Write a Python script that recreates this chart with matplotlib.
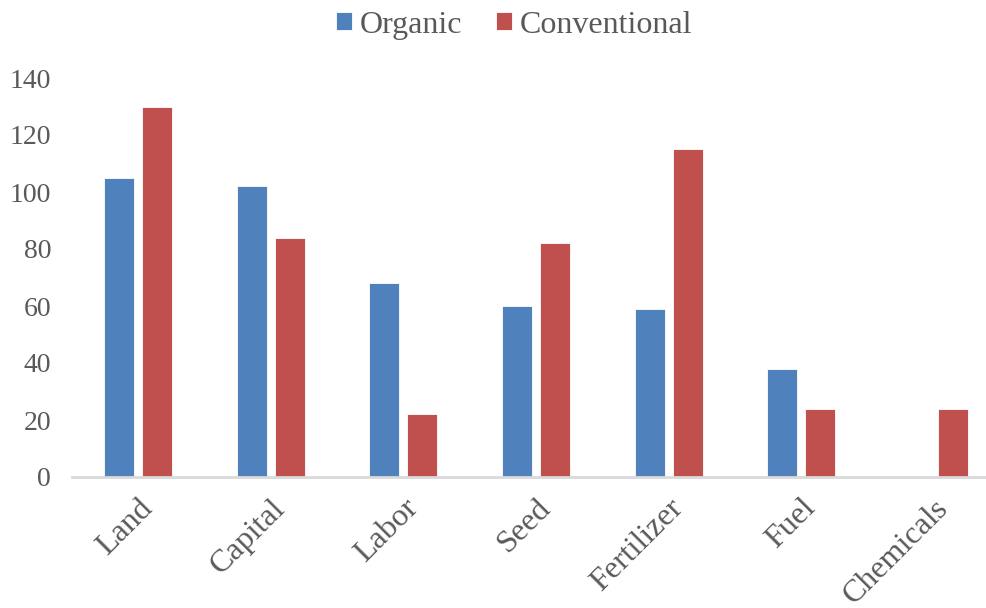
import matplotlib.pyplot as plt
import numpy as np

categories = ["Land", "Capital", "Labor", "Seed", "Fertilizer", "Fuel", "Chemicals"]
organic = [105, 102, 68, 60, 59, 38, 0]
conventional = [130, 84, 22, 82, 115, 24, 24]

BLUE = "#4F81BD"
RED = "#C0504D"
TEXT = "#595959"

plt.rcParams["font.family"] = ["Liberation Serif", "DejaVu Serif"]

fig = plt.figure(figsize=(9.87, 6.08), dpi=100)
# plot area runs slightly past the right edge of the canvas
ax = fig.add_axes([72 / 987, 131 / 608, 928 / 987, 399 / 608])

x = np.arange(len(categories))
width = 0.226
offset = 0.143
ax.bar(x - offset, organic, width, color=BLUE, edgecolor="white", linewidth=0.6, label="Organic")
ax.bar(x + offset, conventional, width, color=RED, edgecolor="white", linewidth=0.6, label="Conventional")

ax.set_xlim(-0.5, len(categories) - 0.5)
ax.set_ylim(0, 140)
ax.set_yticks(range(0, 141, 20))
ax.tick_params(axis="y", length=0, pad=15, labelsize=20, labelcolor=TEXT)
ax.set_xticks(x)
ax.set_xticklabels(categories, rotation=45, ha="right", rotation_mode="anchor")
ax.tick_params(axis="x", length=0, pad=12, labelsize=23, labelcolor=TEXT)

for side in ("top", "right", "left"):
    ax.spines[side].set_visible(False)
ax.spines["bottom"].set_color("#D9D9D9")
ax.spines["bottom"].set_linewidth(2)

fig.legend(loc="upper center", bbox_to_anchor=(0.521, 1.03), ncol=2, frameon=False,
           fontsize=23, labelcolor=TEXT, handlelength=0.5, handleheight=0.5,
           handletextpad=0.22, columnspacing=1.08)

fig.savefig("out.png", dpi=100)
